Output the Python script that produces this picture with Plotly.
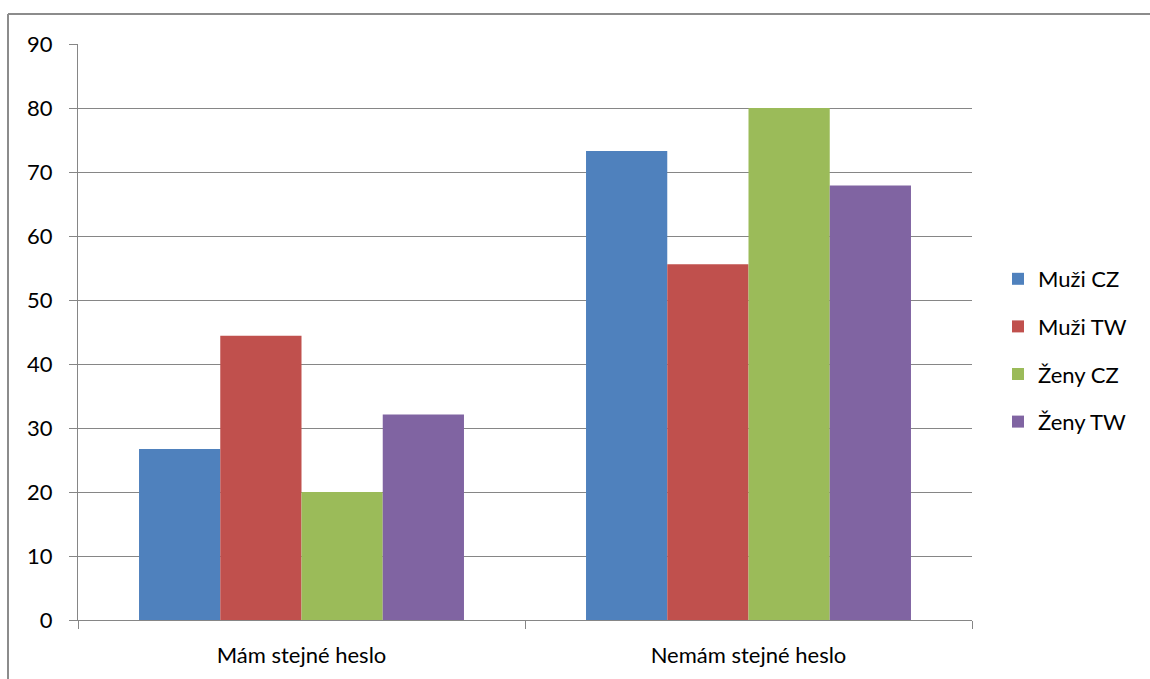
import plotly.graph_objects as go

categories = ["Mám stejné heslo", "Nemám stejné heslo"]
series_names = ["Muži CZ", "Muži TW", "Ženy CZ", "Ženy TW"]
muzi_cz = [26.7, 73.3]
muzi_tw = [44.4, 55.6]
zeny_cz = [20.0, 80.0]
zeny_tw = [32.1, 67.9]
y_ticks = [0, 10, 20, 30, 40, 50, 60, 70, 80, 90]

colors = ["#4F81BD", "#C0504D", "#9BBB59", "#8064A2"]
values = [muzi_cz, muzi_tw, zeny_cz, zeny_tw]

W, H = 1150, 679
L, R, T, B = 78, 178, 44, 59
pw, ph = W - L - R, H - T - B

fig = go.Figure()
for i, (name, vals) in enumerate(zip(series_names, values)):
    fig.add_trace(go.Bar(
        x=categories, y=vals, name=name,
        marker=dict(color=colors[i], line=dict(width=0)),
        legendgroup=f"g{i}",
    ))

font_family = "Lato, 'Open Sans', sans-serif"

# outer frame of the chart area (open on the right and bottom)
def px_x(v):
    return (v - L) / pw

def px_y(v):
    return 1 - (v - T) / ph

fig.add_shape(type="line", xref="paper", yref="paper",
              x0=px_x(8), x1=px_x(1160), y0=px_y(14), y1=px_y(14),
              line=dict(color="#8C8C8C", width=2), layer="below")
fig.add_shape(type="line", xref="paper", yref="paper",
              x0=px_x(8), x1=px_x(8), y0=px_y(14), y1=px_y(690),
              line=dict(color="#8C8C8C", width=2), layer="below")

fig.update_layout(
    width=W, height=H,
    margin=dict(l=L, r=R, t=T, b=B, pad=0),
    paper_bgcolor="white", plot_bgcolor="white",
    barmode="group", bargap=0.273, bargroupgap=0,
    font=dict(family=font_family, size=22, color="black"),
    showlegend=True,
    legend=dict(x=px_x(998), y=px_y(258), xanchor="left", yanchor="top",
                font=dict(size=22), tracegroupgap=16, itemwidth=30,
                bgcolor="rgba(0,0,0,0)"),
    xaxis=dict(showgrid=False, showline=True, linecolor="#868686", linewidth=1,
               ticks="outside", ticklen=8, tickcolor="#868686",
               tickson="boundaries", tickfont=dict(size=22),
               ticklabelstandoff=16),
    yaxis=dict(range=[0, 90], tickvals=y_ticks, showgrid=True,
               gridcolor="#868686", gridwidth=1, showline=True,
               linecolor="#868686", linewidth=1, ticks="outside", ticklen=8,
               tickcolor="#868686", tickfont=dict(size=22), zeroline=False,
               ticklabelstandoff=12),
)

fig.write_html("out.html")
